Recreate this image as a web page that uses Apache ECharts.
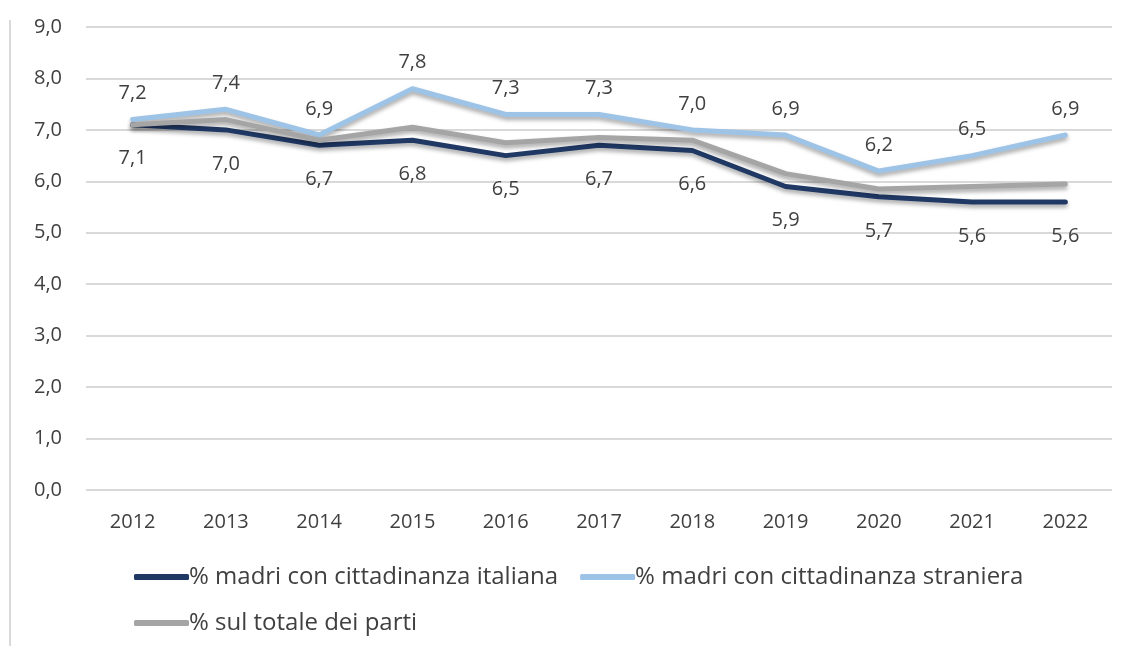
<!DOCTYPE html>
<html>
<head>
<meta charset="utf-8">
<script src="https://cdn.jsdelivr.net/npm/echarts@6/dist/echarts.min.js"></script>
<style>
  html, body { margin: 0; padding: 0; background: #fff; }
  #chart { width: 1128px; height: 646px; }
</style>
</head>
<body>
<div id="chart"></div>
<script>
const anni = ['2012', '2013', '2014', '2015', '2016', '2017', '2018', '2019', '2020', '2021', '2022']
const italiana = [7.1, 7.0, 6.7, 6.8, 6.5, 6.7, 6.6, 5.9, 5.7, 5.6, 5.6]
const straniera = [7.2, 7.4, 6.9, 7.8, 7.3, 7.3, 7.0, 6.9, 6.2, 6.5, 6.9]
const totale = [7.1, 7.2, 6.8, 7.05, 6.75, 6.85, 6.8, 6.15, 5.85, 5.9, 5.95]
const nomi = ['% madri con cittadinanza italiana', '% madri con cittadinanza straniera', '% sul totale dei parti']

const fmt = (v) => v.toFixed(1).replace('.', ',')
const font = '"Open Sans", Lato, sans-serif'

const shadow = {
    shadowColor: 'rgba(0,0,0,0.35)',
    shadowBlur: 4,
    shadowOffsetY: 3
}

const makeSeries = (name, data, color, labelPos) => ({
    name: name,
    type: 'line',
    data: data,
    symbol: 'circle',
    symbolSize: 0.1,
    lineStyle: Object.assign({ width: 5, color: color, cap: 'round', join: 'round' }, shadow),
    itemStyle: { color: color },
    label: {
        show: labelPos !== null,
        position: labelPos || 'top',
        distance: labelPos === 'bottom' ? 24 : 16,
        formatter: (p) => fmt(p.value),
        fontFamily: font,
        fontSize: 20,
        color: '#404040'
    }
})

const myChart = echarts.init(document.getElementById('chart'))
const option = {
    animation: false,
    grid: { left: 86, right: 16, top: 27, bottom: 156 },
    xAxis: {
        type: 'category',
        data: anni,
        axisLine: { show: false },
        axisTick: { show: false },
        axisLabel: { fontFamily: font, fontSize: 20, color: '#404040', margin: 22 }
    },
    yAxis: {
        type: 'value',
        min: 0,
        max: 9,
        interval: 1,
        axisLabel: { fontFamily: font, fontSize: 20, color: '#404040', margin: 24, formatter: (v) => fmt(v) },
        splitLine: { lineStyle: { color: '#d9d9d9', width: 2 } }
    },
    legend: {
        left: 129,
        top: 560,
        width: 960,
        icon: 'roundRect',
        itemWidth: 55,
        itemHeight: 6,
        itemGap: 22,
        textStyle: { fontFamily: font, fontSize: 24, color: '#404040', padding: [0, 0, 0, -5], lineHeight: 20 },
        data: nomi
    },
    graphic: [{
        type: 'line',
        shape: { x1: 10, y1: 20, x2: 10, y2: 646 },
        style: { stroke: '#d9d9d9', lineWidth: 2 }
    }],
    series: [
        makeSeries(nomi[0], italiana, '#1f3864', 'bottom'),
        makeSeries(nomi[1], straniera, '#9dc3e6', 'top'),
        makeSeries(nomi[2], totale, '#a5a5a5', null)
    ]
}
myChart.setOption(option)
</script>
</body>
</html>
